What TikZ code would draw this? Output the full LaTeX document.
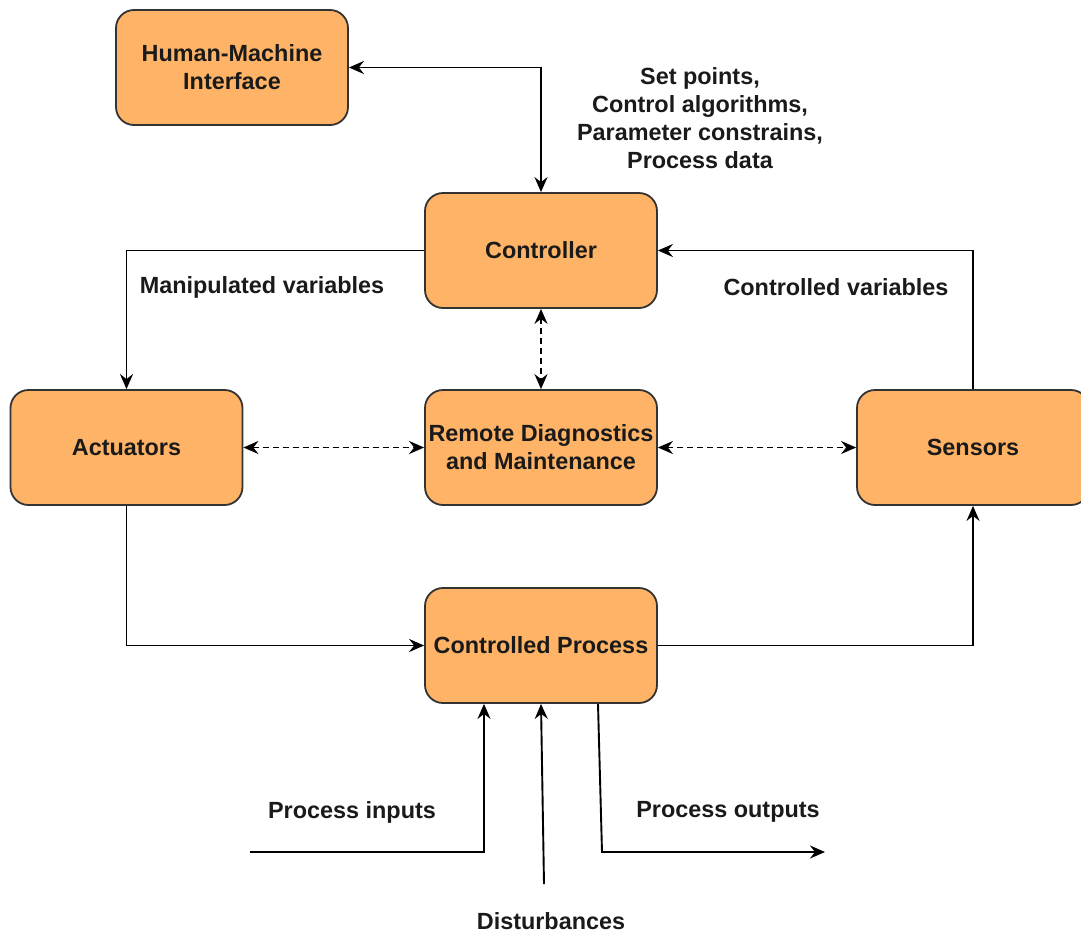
\documentclass[tikz,border=0pt]{standalone}
\usepackage{fontspec}
\setmainfont{Liberation Sans}
\usetikzlibrary{arrows.meta}
\definecolor{boxfill}{HTML}{FFB366}
\definecolor{boxline}{HTML}{333333}
\definecolor{ink}{HTML}{1A1A1A}
\begin{document}
\begin{tikzpicture}[x=1pt,y=-1pt,
  block/.style={draw=boxline,fill=boxfill,line width=1.8pt,rounded corners=18pt,
    minimum width=232pt,minimum height=115pt,align=center,text=ink,
    font=\fontsize{23.4}{28}\selectfont\bfseries},
  lbl/.style={align=center,text=ink,font=\fontsize{23.4}{28}\selectfont\bfseries},
  tip/.style={Stealth[length=15pt,width=13pt,inset=5pt]},
  link/.style={draw=black,line width=1.9pt,-{Stealth[length=15pt,width=13pt,inset=5pt]}},
  blink/.style={link,{Stealth[length=15pt,width=13pt,inset=5pt]}-{Stealth[length=15pt,width=13pt,inset=5pt]}},
  dlink/.style={blink,dash pattern=on 6pt off 4pt}]
\useasboundingbox (0,0) rectangle (1081,935);
\clip (0,0) rectangle (1081,935);
\fill[white] (0,0) rectangle (1081,935);

% blocks
\node[block] (hmi)  at (232,67.5)   {Human-Machine\\Interface};
\node[block] (ctrl) at (541,250.5)  {Controller};
\node[block] (act)  at (126.5,447.5){Actuators};
\node[block] (rdm)  at (541,447.5)  {Remote Diagnostics\\and Maintenance};
\node[block] (sens) at (973,447.5)  {Sensors};
\node[block] (proc) at (541,645.5)  {Controlled Process};

% main control loop
\draw[blink] (hmi.east) -| (ctrl.north);
\draw[link] (ctrl.west) -| (act.north);
\draw[link] (sens.north) |- (ctrl.east);
\draw[link] (act.south) |- (proc.west);
\draw[link] (proc.east) -| (sens.south);

% diagnostics links
\draw[dlink] (ctrl.south) -- (rdm.north);
\draw[dlink] (act.east) -- (rdm.west);
\draw[dlink] (rdm.east) -- (sens.west);

% process inputs, disturbances and outputs
\coordinate (pin)  at (250,852);
\coordinate (dist) at (544,884);
\coordinate (obend) at (602,852);
\coordinate (oend) at (825,852);
\draw[link] (pin) -| ([xshift=-57pt]proc.south);
\draw[link] (dist) -- (proc.south);
\draw[link] ([xshift=57pt]proc.south) -- (obend) -- (oend);

% labels
\node[lbl] (setp) at (700,118) {Set points,\\Control algorithms,\\Parameter constrains,\\Process data};
\node[lbl] (mv)   at (262,287) {Manipulated variables};
\node[lbl] (cv)   at (836,287) {Controlled variables};
\node[lbl] (pi)   at (352,812) {Process inputs};
\node[lbl] (po)   at (728,812) {Process outputs};
\node[lbl] (dl)   at (551,921) {Disturbances};
\end{tikzpicture}
\end{document}
